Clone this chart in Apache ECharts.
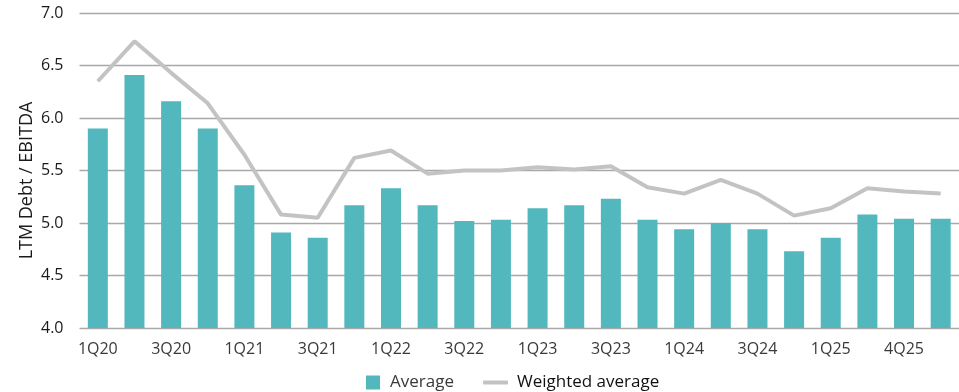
<!DOCTYPE html>
<html>
<head>
<meta charset="utf-8">
<script src="https://cdn.jsdelivr.net/npm/echarts@6/dist/echarts.min.js"></script>
<style>
html,body{margin:0;padding:0;background:#fff;}
#chart{width:959px;height:392px;}
</style>
</head>
<body>
<div id="chart"></div>
<script>
var categories = ['1Q20','2Q20','3Q20','4Q20','1Q21','2Q21','3Q21','4Q21','1Q22','2Q22','3Q22','4Q22','1Q23','2Q23','3Q23','4Q23','1Q24','2Q24','3Q24','4Q24','1Q25','2Q25','3Q25','4Q25'];
var tickLabels = ['1Q20','','3Q20','','1Q21','','3Q21','','1Q22','','3Q22','','1Q23','','3Q23','','1Q24','','3Q24','','1Q25','','4Q25',''];
var average = [5.9,6.41,6.16,5.9,5.36,4.91,4.86,5.17,5.33,5.17,5.02,5.03,5.14,5.17,5.23,5.03,4.94,5.0,4.94,4.73,4.86,5.08,5.04,5.04];
var weightedAverage = [6.35,6.73,6.43,6.14,5.65,5.08,5.05,5.62,5.69,5.47,5.5,5.5,5.53,5.51,5.54,5.34,5.28,5.41,5.28,5.07,5.14,5.33,5.3,5.28];
var yTicks = {min: 4.0, max: 7.0, interval: 0.5};

var chart = echarts.init(document.getElementById('chart'), null, {renderer: 'canvas'});
var font = '"Open Sans", sans-serif';
chart.setOption({
  animation: false,
  backgroundColor: '#ffffff',
  grid: {left: 79.5, right: -7.5, top: 13, bottom: 64, containLabel: false},
  legend: [
    {
      data: [{name: 'Average', icon: 'rect'}],
      left: 361, top: 369, itemWidth: 14, itemHeight: 14,
      textStyle: {fontFamily: font, fontSize: 17, color: '#3a3a3a', padding: [0,0,0,5]}
    },
    {
      data: [{name: 'Weighted average', icon: 'roundRect', itemStyle: {color: '#c3c3c3'}}],
      left: 478, top: 369, itemWidth: 25, itemHeight: 4,
      textStyle: {fontFamily: font, fontSize: 17, color: '#111111', padding: [0,0,0,4]}
    }
  ],
  xAxis: {
    type: 'category',
    data: categories,
    axisLine: {show: false},
    axisTick: {show: false},
    axisLabel: {
      interval: 0,
      margin: 13,
      fontFamily: font, fontSize: 16, color: '#3a3a3a',
      formatter: function (v, i) { return tickLabels[i]; }
    }
  },
  yAxis: {
    type: 'value',
    min: yTicks.min, max: yTicks.max, interval: yTicks.interval,
    name: 'LTM Debt / EBITDA',
    nameLocation: 'middle',
    nameRotate: 90,
    nameGap: 44,
    nameMoveOverlap: false,
    nameTextStyle: {fontFamily: font, fontSize: 18, color: '#1a1a1a', padding: [0, 20, 0, 0]},
    axisLine: {show: false},
    axisTick: {show: false},
    axisLabel: {
      margin: 16,
      fontFamily: font, fontSize: 16, color: '#1a1a1a',
      formatter: function (v) { return v.toFixed(1); }
    },
    splitLine: {lineStyle: {color: '#a8a8a8', width: 1.3}}
  },
  series: [
    {
      name: 'Average',
      type: 'bar',
      data: average,
      barWidth: 20,
      itemStyle: {color: '#52b8bd'}
    },
    {
      name: 'Weighted average',
      type: 'line',
      data: weightedAverage,
      symbol: 'none',
      smooth: false,
      z: 5,
      itemStyle: {color: '#c3c3c3'},
      lineStyle: {color: '#c3c3c3', width: 4}
    }
  ]
});
</script>
</body>
</html>
